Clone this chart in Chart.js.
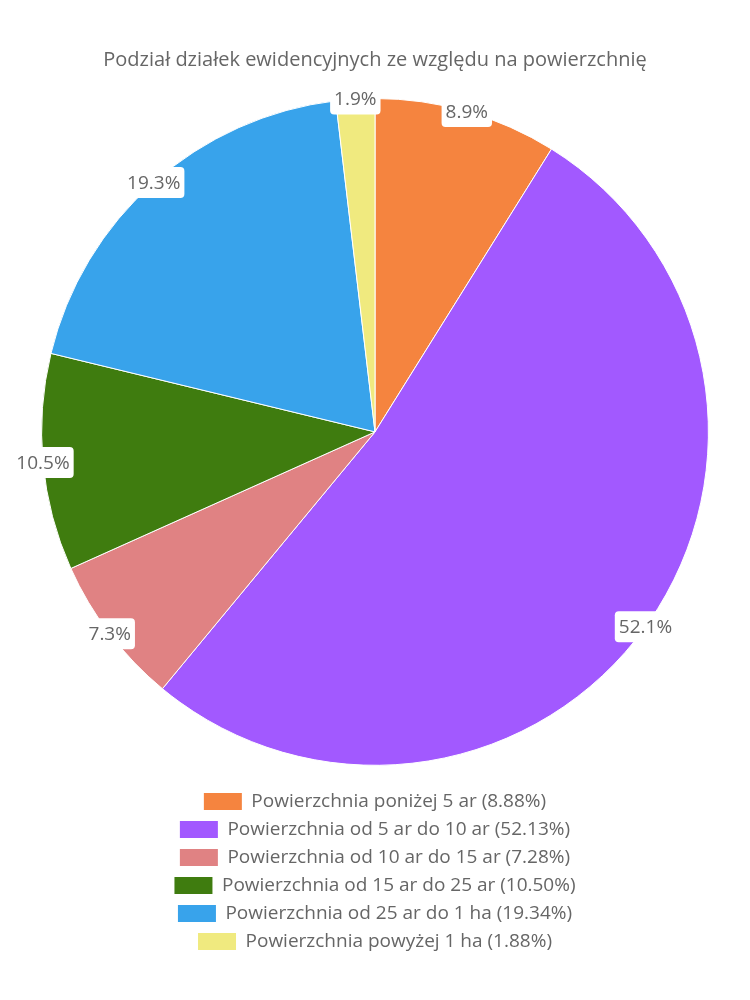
<!DOCTYPE html>
<html><head><meta charset="utf-8">
<script src="https://cdn.jsdelivr.net/npm/chart.js@4/dist/chart.umd.min.js"></script>
<style>html,body{margin:0;padding:0;background:#fff}#wrap{width:750px;height:1000px}</style>
</head><body><div id="wrap"><canvas id="c"></canvas></div>
<script>
const titleText = 'Podział działek ewidencyjnych ze względu na powierzchnię';
const categories = [
  'Powierzchnia poniżej 5 ar',
  'Powierzchnia od 5 ar do 10 ar',
  'Powierzchnia od 10 ar do 15 ar',
  'Powierzchnia od 15 ar do 25 ar',
  'Powierzchnia od 25 ar do 1 ha',
  'Powierzchnia powyżej 1 ha'
];
const shares = [8.88, 52.13, 7.28, 10.50, 19.34, 1.88];
const colors = ['#F5843F', '#A259FF', '#E08283', '#3F7C0F', '#38A3EB', '#F0EA7F'];

const FONT = "'Open Sans', sans-serif";

// force one legend item per row
const LP = Chart.Legend._element.prototype;
const origFit = LP._fitRows;
LP._fitRows = function(...a){ const m=this.maxWidth; this.maxWidth=Math.min(m,460); const r=origFit.apply(this,a); this.maxWidth=m; return r; };

const sliceLabels = {
  id: 'sliceLabels',
  afterDatasetsDraw(chart){
    const ctx = chart.ctx;
    const meta = chart.getDatasetMeta(0);
    const vals = chart.data.datasets[0].data;
    ctx.save();
    ctx.font = '19px ' + FONT;
    ctx.textAlign = 'center';
    ctx.textBaseline = 'middle';
    meta.data.forEach((arc, i) => {
      const p = arc.getProps(['x','y','startAngle','endAngle','outerRadius'], true);
      const mid = (p.startAngle + p.endAngle) / 2;
      const cx = p.x + Math.cos(mid) * p.outerRadius;
      const cy = p.y + Math.sin(mid) * p.outerRadius;
      const t = vals[i].toFixed(1) + '%';
      const w = ctx.measureText(t).width + 8;
      const h = 31;
      ctx.fillStyle = '#fff';
      ctx.beginPath();
      ctx.roundRect(cx - w/2, cy - h/2, w, h, 4);
      ctx.fill();
      ctx.fillStyle = '#666';
      ctx.fillText(t, cx, cy + 1);
    });
    ctx.restore();
  }
};

new Chart(document.getElementById('c'), {
  type: 'pie',
  data: {
    labels: categories,
    datasets: [{
      data: shares,
      backgroundColor: colors,
      borderColor: '#fff',
      borderWidth: 1
    }]
  },
  options: {
    responsive: true,
    maintainAspectRatio: false,
    animation: false,
    layout: { padding: { top: 10, bottom: 39, left: 0, right: 0 } },
    plugins: {
      title: { display: true, text: titleText, color: '#666', font: { family: FONT, size: 20, weight: 'normal' }, padding: { top: 38, bottom: 26 } },
      legend: {
        position: 'bottom',
        title: { display: true, text: ' ', font: { size: 1 }, padding: 8 },
        labels: {
          color: '#666',
          font: { family: FONT, size: 19 },
          boxWidth: 38, boxHeight: 17, padding: 9,
          generateLabels(chart){
            const ds = chart.data.datasets[0];
            return chart.data.labels.map((l, i) => ({
              text: l + ' (' + ds.data[i].toFixed(2) + '%)',
              fillStyle: ds.backgroundColor[i],
              strokeStyle: ds.backgroundColor[i],
              lineWidth: 0,
              hidden: false,
              index: i
            }));
          }
        }
      },
      tooltip: { enabled: false }
    }
  },
  plugins: [sliceLabels]
});
</script></body></html>
